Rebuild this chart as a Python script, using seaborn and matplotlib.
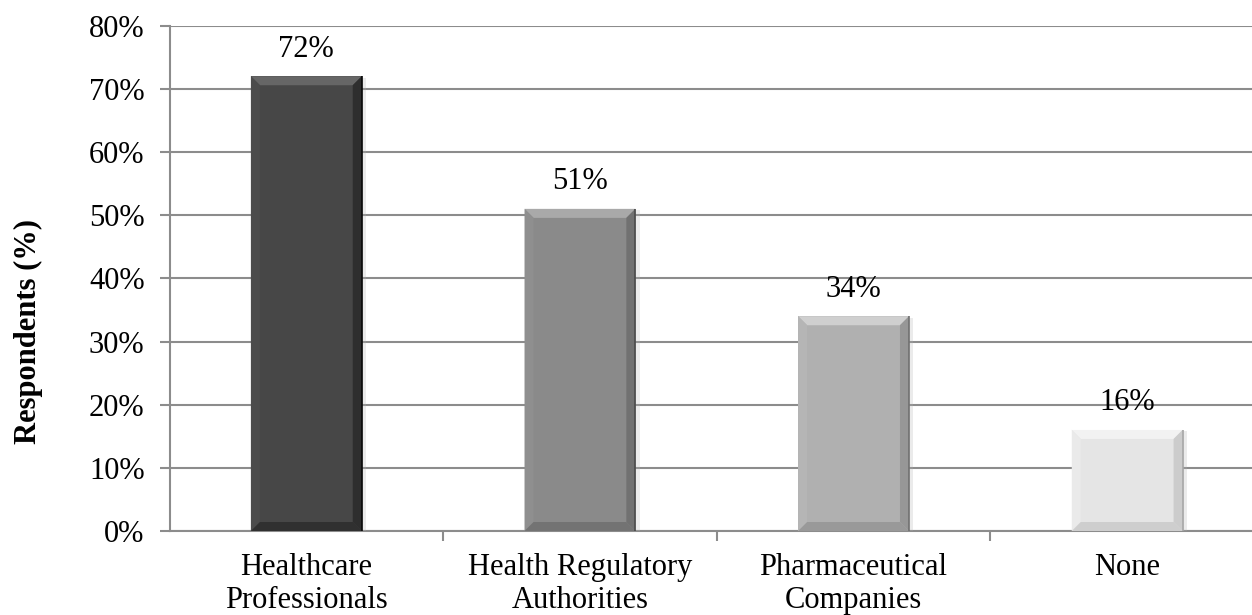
import numpy as np
import matplotlib
matplotlib.use("Agg")
import matplotlib.pyplot as plt
from matplotlib.patches import Polygon
from matplotlib.ticker import PercentFormatter, FixedLocator
import matplotlib.patheffects as pe
import seaborn as sns

# Survey responses
categories = ["Healthcare\nProfessionals", "Health Regulatory\nAuthorities",
              "Pharmaceutical\nCompanies", "None"]
values = [72, 51, 34, 16]
bar_colors = ["#474747", "#8a8a8a", "#b0b0b0", "#e5e5e5"]
y_label = "Respondents (%)"

sns.set_theme(style="white")
plt.rcParams["font.family"] = ["Liberation Serif", "DejaVu Serif"]

FS = 22
GRID = "#8c8c8c"

fig = plt.figure(figsize=(12.52, 6.15), dpi=100)
ax = fig.add_axes([169.5 / 1252, 84 / 615, (1264 - 169.5) / 1252, (531 - 25.7) / 615])

sns.barplot(x=categories, y=values, hue=categories, palette=bar_colors,
            legend=False, width=0.405, saturation=1, ax=ax, zorder=3,
            edgecolor="none", linewidth=0)

ax.set_ylim(0, 80)
ax.set_xlim(-0.5, len(categories) - 0.5)
ax.set_yticks(np.arange(0, 81, 10))
ax.yaxis.set_major_formatter(PercentFormatter(decimals=0))
ax.set_ylabel("")
ax.set_xlabel("")

# grid and axes styling
ax.grid(axis="y", color=GRID, linewidth=1.5, zorder=0)
ax.set_axisbelow(True)
for side in ["top", "right"]:
    ax.spines[side].set_visible(False)
for side in ["left", "bottom"]:
    ax.spines[side].set_color(GRID)
    ax.spines[side].set_linewidth(1.5)

ax.tick_params(axis="y", which="major", left=True, length=7, width=1.5,
               color=GRID, labelsize=FS, pad=11, labelcolor="black")
ax.tick_params(axis="x", which="major", bottom=False, length=0, labelsize=FS,
               pad=16, labelcolor="black")
ax.xaxis.set_minor_locator(FixedLocator(np.arange(0.5, len(categories) - 0.5, 1)))
ax.tick_params(axis="x", which="minor", bottom=True, length=7, width=1.5, color=GRID)
for lbl in ax.get_xticklabels():
    lbl.set_linespacing(1.15)

fig.text(28 / 1252, 1 - 332 / 615, y_label, rotation=90, ha="center", va="center",
         fontsize=FS, fontweight="bold", color="black")

# value labels above bars
for cont in ax.containers:
    ax.bar_label(cont, fmt="%d%%", padding=9, fontsize=FS, color="black")

# bevel shading on each bar
fig.canvas.draw()
inv = ax.transData.inverted()
bev = 9.0
for patch in ax.patches:
    patch.set_path_effects([pe.SimplePatchShadow(offset=(3, -1), shadow_rgbFace="#b0b0b0",
                                                 alpha=0.25), pe.Normal()])
    x0, y0 = patch.get_x(), patch.get_y()
    x1, y1 = x0 + patch.get_width(), y0 + patch.get_height()
    (X0, Y0), (X1, Y1) = ax.transData.transform([(x0, y0), (x1, y1)])
    base = np.array(patch.get_facecolor()[:3])
    light = np.clip(base + 0.12, 0, 0.95)
    lighter = np.clip(base + 0.02, 0, 1)
    dark = np.clip(base - 0.10, 0, 1)
    darker = np.clip(base - 0.09, 0, 1)
    faces = [
        ([(X0, Y1), (X1, Y1), (X1 - bev, Y1 - bev), (X0 + bev, Y1 - bev)], light),
        ([(X0, Y0), (X0, Y1), (X0 + bev, Y1 - bev), (X0 + bev, Y0 + bev)], lighter),
        ([(X1, Y0), (X1, Y1), (X1 - bev, Y1 - bev), (X1 - bev, Y0 + bev)], dark),
        ([(X0, Y0), (X1, Y0), (X1 - bev, Y0 + bev), (X0 + bev, Y0 + bev)], darker),
    ]
    for pts, col in faces:
        ax.add_patch(Polygon(inv.transform(pts), closed=True, facecolor=col,
                             edgecolor="none", zorder=3.5))
    ax.plot([x1, x1], [y0, y1], color=np.clip(base - 0.25, 0, 1), lw=1.2, zorder=3.6,
            solid_capstyle="butt")

fig.savefig("out.png", dpi=100, facecolor="white")
